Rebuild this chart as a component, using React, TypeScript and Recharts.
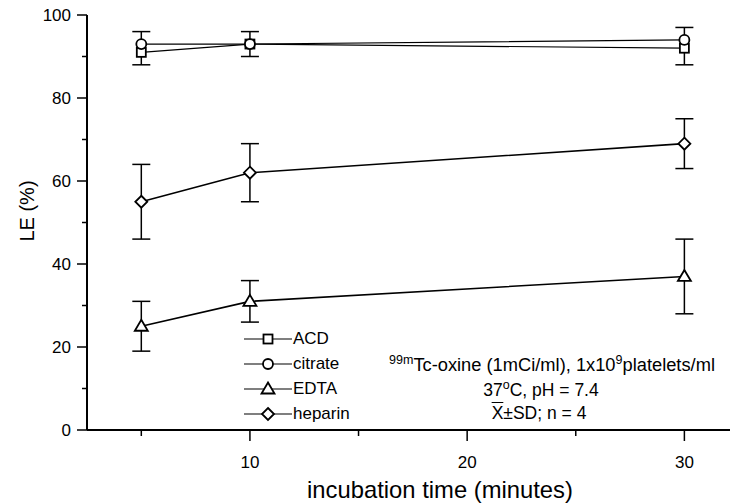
import { LineChart, Line, XAxis, YAxis, ErrorBar } from "recharts";

// 시간 (분)
const times = [5, 10, 30];
// LE (%) 평균값
const acd = [91, 93, 92];
const citrate = [93, 93, 94];
const edta = [25, 31, 37];
const heparin = [55, 62, 69];
// SD
const acdSD = [3, 3, 4];
const citrateSD = [3, 3, 3];
const edtaSD = [6, 5, 9];
const heparinSD = [9, 7, 6];

const xTicks = [5, 10, 15, 20, 25, 30];
const xMajor = [10, 20, 30];
const yTicks = [0, 10, 20, 30, 40, 50, 60, 70, 80, 90, 100];
const yMajor = [0, 20, 40, 60, 80, 100];

const legendItems = [
  { name: "ACD", shape: "square" },
  { name: "citrate", shape: "circle" },
  { name: "EDTA", shape: "triangle" },
  { name: "heparin", shape: "diamond" },
];

const FONT = "Arial, 'Liberation Sans', sans-serif";

// ACD 아래 SD ~ citrate 위 SD 를 한 줄로 (겹치는 두 시리즈)
const chartData = times.map((t, i) => ({
  t,
  acd: acd[i],
  citrate: citrate[i],
  edta: edta[i],
  heparin: heparin[i],
  topErr: [acdSD[i], citrate[i] - acd[i] + citrateSD[i]],
  edtaErr: edtaSD[i],
  heparinErr: heparinSD[i],
}));

function Marker({ shape, cx, cy }: { shape: string; cx: number; cy: number }) {
  const s = { fill: "#fff", stroke: "#000", strokeWidth: 1.8 };
  if (shape === "square")
    return <rect x={cx - 4.5} y={cy - 4.5} width={9} height={9} {...s} />;
  if (shape === "circle") return <circle cx={cx} cy={cy} r={5} {...s} />;
  if (shape === "triangle")
    return (
      <polygon
        points={`${cx},${cy - 6.5} ${cx + 6.5},${cy + 4.5} ${cx - 6.5},${cy + 4.5}`}
        {...s}
      />
    );
  return (
    <polygon
      points={`${cx},${cy - 6} ${cx + 6},${cy} ${cx},${cy + 6} ${cx - 6},${cy}`}
      {...s}
    />
  );
}

const dotOf = (shape: string) => (props: any) =>
  (
    <Marker
      key={`${shape}-${props.index}`}
      shape={shape}
      cx={props.cx}
      cy={props.cy}
    />
  );

function XTick({ x, y, payload }: any) {
  const major = xMajor.includes(payload.value);
  return (
    <g>
      <line x1={x} x2={x} y1={y} y2={y + (major ? 11 : 6)} stroke="#000" strokeWidth={1.5} />
      {major && (
        <text x={x} y={y + 38} textAnchor="middle" fontSize={17} fill="#000">
          {payload.value}
        </text>
      )}
    </g>
  );
}

function YTick({ x, y, payload }: any) {
  const major = yMajor.includes(payload.value);
  return (
    <g>
      <line x1={x - (major ? 10 : 5)} x2={x} y1={y} y2={y} stroke="#000" strokeWidth={1.5} />
      {major && (
        <text x={x - 16} y={y} dy="0.36em" textAnchor="end" fontSize={17} fill="#000">
          {payload.value}
        </text>
      )}
    </g>
  );
}

const supStyle = { fontSize: 12.5, position: "relative" as const, top: -7 };
const noteStyle = {
  position: "absolute" as const,
  width: 400,
  textAlign: "center" as const,
  fontSize: 17.5,
  lineHeight: "20px",
  whiteSpace: "nowrap" as const,
};

export default function App() {
  return (
    <div
      style={{
        position: "fixed",
        left: 0,
        top: 0,
        width: 730,
        height: 503,
        overflow: "hidden",
        background: "#fff",
        fontFamily: FONT,
      }}
    >
      <LineChart
        width={803}
        height={503}
        data={chartData}
        margin={{ top: 15, right: 10, left: 27, bottom: 0 }}
      >
        <XAxis
          dataKey="t"
          type="number"
          domain={[2.5, 35]}
          ticks={xTicks}
          interval={0}
          tickLine={false}
          tickSize={0}
          tickMargin={0}
          tick={<XTick />}
          axisLine={{ stroke: "#000", strokeWidth: 2 }}
          height={73}
          label={{
            value: "incubation time (minutes)",
            position: "insideBottom",
            offset: 5,
            fontSize: 23.8,
            fill: "#000",
          }}
        />
        <YAxis
          type="number"
          domain={[0, 100]}
          ticks={yTicks}
          interval={0}
          tickLine={false}
          tickSize={0}
          tickMargin={0}
          tick={<YTick />}
          axisLine={{ stroke: "#000", strokeWidth: 2 }}
          width={60}
        />
        <Line
          dataKey="acd"
          type="linear"
          stroke="#000"
          strokeWidth={1.2}
          dot={dotOf("square")}
          activeDot={false}
          isAnimationActive={false}
        >
          <ErrorBar dataKey="topErr" width={9} stroke="#000" strokeWidth={1.5} direction="y" />
        </Line>
        <Line
          dataKey="citrate"
          type="linear"
          stroke="#000"
          strokeWidth={1.2}
          dot={dotOf("circle")}
          activeDot={false}
          isAnimationActive={false}
        />
        <Line
          dataKey="edta"
          type="linear"
          stroke="#000"
          strokeWidth={1.6}
          dot={dotOf("triangle")}
          activeDot={false}
          isAnimationActive={false}
        >
          <ErrorBar dataKey="edtaErr" width={9} stroke="#000" strokeWidth={1.5} direction="y" />
        </Line>
        <Line
          dataKey="heparin"
          type="linear"
          stroke="#000"
          strokeWidth={1.6}
          dot={dotOf("diamond")}
          activeDot={false}
          isAnimationActive={false}
        >
          <ErrorBar dataKey="heparinErr" width={9} stroke="#000" strokeWidth={1.5} direction="y" />
        </Line>
      </LineChart>

      {/* y축 제목 */}
      <div
        style={{
          position: "absolute",
          left: -13,
          top: 201,
          width: 80,
          height: 20,
          lineHeight: "20px",
          textAlign: "center",
          fontSize: 20,
          transform: "rotate(-90deg)",
          transformOrigin: "50% 50%",
          whiteSpace: "nowrap",
        }}
      >
        LE (%)
      </div>

      {/* 범례 */}
      <div style={{ position: "absolute", left: 244, top: 326, fontSize: 17 }}>
        {legendItems.map((it) => (
          <div key={it.name} style={{ display: "flex", alignItems: "center", height: 25 }}>
            <svg width={48} height={20}>
              <line x1={0} x2={48} y1={10} y2={10} stroke="#000" strokeWidth={1.2} />
              <Marker shape={it.shape} cx={24} cy={10} />
            </svg>
            <span style={{ marginLeft: 1 }}>{it.name}</span>
          </div>
        ))}
      </div>

      {/* 조건 설명 */}
      <div style={{ ...noteStyle, left: 352, top: 355, fontSize: 18.3 }}>
        <span style={supStyle}>99m</span>Tc-oxine (1mCi/ml), 1x10<span style={supStyle}>9</span>platelets/ml
      </div>
      <div style={{ ...noteStyle, left: 341, top: 380 }}>
        37<span style={supStyle}>o</span>C, pH = 7.4
      </div>
      <div style={{ ...noteStyle, left: 339, top: 403 }}>
        <span style={{ textDecoration: "overline" }}>X</span>±SD; n = 4
      </div>
    </div>
  );
}
